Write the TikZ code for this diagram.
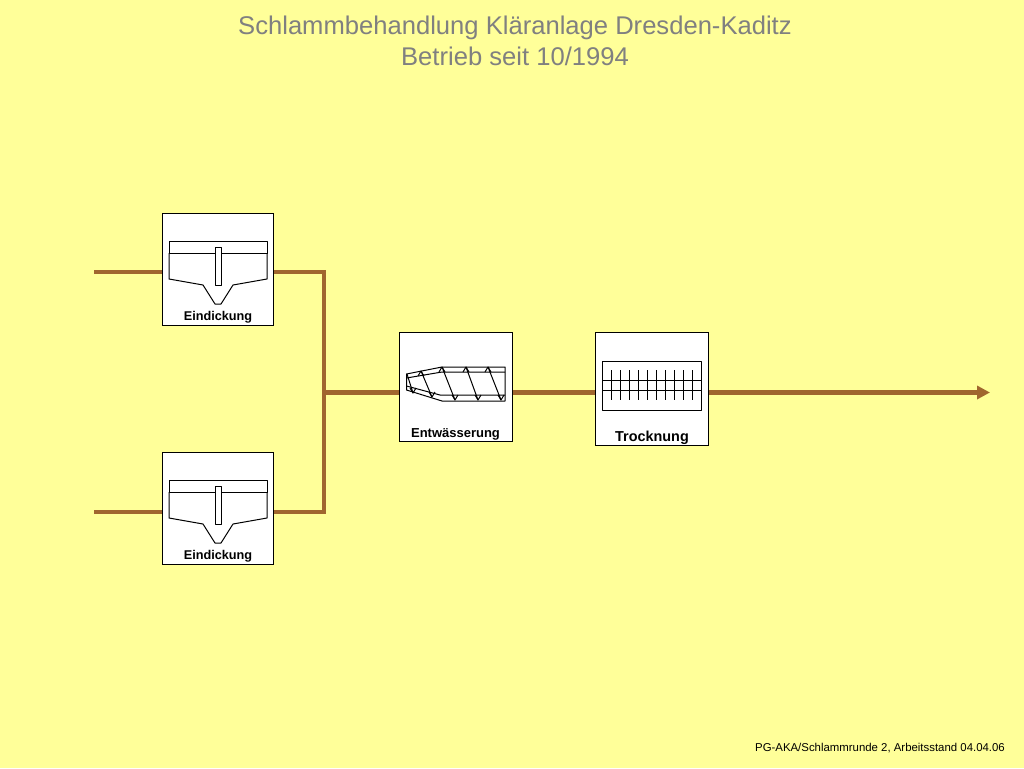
\documentclass[tikz,border=0pt]{standalone}
\usepackage{fontspec}
\setmainfont{Liberation Sans}
\usetikzlibrary{arrows.meta}
\definecolor{bgyellow}{HTML}{FFFF99}
\definecolor{pipebrown}{HTML}{A0662E}
\definecolor{titlegrey}{HTML}{808080}
\tikzset{
  unitbox/.style={draw=black,fill=white,line width=1pt,inner sep=0pt,minimum width=111pt,minimum height=112pt},
  pipe/.style={draw=pipebrown,line width=4.4pt},
  sym/.style={draw=black,line width=1pt,line join=round},
  unitlabel/.style={font=\bfseries\fontsize{12.7}{14}\selectfont,text=black,inner sep=0pt,anchor=base},
  titletext/.style={font=\fontsize{25.6}{31}\selectfont,text=titlegrey,align=center,inner sep=0pt},
}
\newcommand{\tanksym}[1]{%
  \begin{scope}[shift={(0,#1)}]
    \draw[sym] (169,241) rectangle (267,253);
    \draw[sym] (169,253) -- (169,279) -- (203,285) -- (215,304) -- (221,304) -- (233,285) -- (267,279) -- (267,253);
    \draw[sym,fill=white] (215,247) rectangle (221,285);
  \end{scope}}
\begin{document}
\begin{tikzpicture}[x=1pt,y=-1pt]
\useasboundingbox (0,0) rectangle (1024,768);
\fill[bgyellow] (0,0) rectangle (1024,768);
\node[titletext] (title) at (515,41) {Schlammbehandlung Kläranlage Dresden-Kaditz\\Betrieb seit 10/1994};
\node[font=\fontsize{11.4}{13}\selectfont,text=black,anchor=base east,inner sep=0pt] (foot) at (1005,751) {PG-AKA/Schlammrunde 2, Arbeitsstand 04.04.06};
% boxes
\node[unitbox] (e1) at (217.5,269) {};
\node[unitbox] (e2) at (217.5,508) {};
\node[unitbox,minimum width=113pt,minimum height=109pt] (en) at (455.5,386.5) {};
\node[unitbox,minimum width=113pt,minimum height=113pt] (tr) at (651.5,388.5) {};
% free ends and junctions
\coordinate (in1) at (94,272);
\coordinate (in2) at (94,512);
\coordinate (j1) at (324,272);
\coordinate (j2) at (324,512);
\coordinate (jm) at (324,392.5);
\coordinate (out) at (990,392.5);
% connectors
\draw[pipe] (in1) -- (e1.west |- in1);
\draw[pipe] (in2) -- (e2.west |- in2);
\draw[pipe,line join=miter] (e1.east |- j1) -- (j1) -- (j2) -- (e2.east |- j2);
\draw[pipe] (jm) -- (en.west |- jm);
\draw[pipe] (en.east |- jm) -- (tr.west |- jm);
\draw[pipe,-{Triangle[length=13pt,width=13pt]}] (tr.east |- out) -- (out);
% symbols
\tanksym{0}
\tanksym{239}
% screw
\draw[sym] (406.5,374) -- (442,367) -- (505,367) -- (505,401) -- (442,401) -- (406.5,390) -- cycle;
\draw[sym] (406.5,378) -- (442,372) -- (505,372);
\draw[sym] (406.5,386) -- (440,395) -- (505,395);
\draw[sym] (407,374) -- (413,393);
\draw[sym] (421,371) -- (432,397);
\draw[sym] (442,367) -- (455,400);
\draw[sym] (466,367) -- (478,400);
\draw[sym] (488,367) -- (501,400);
\foreach \a/\b in {413/393,432/397,455/400,478/400,501/400} \draw[sym] (\a-3,\b-5) -- (\a,\b) -- (\a+3,\b-5);
\foreach \a/\b in {421/371,442/367,466/367,488/367} \draw[sym] (\a-3,\b+5) -- (\a,\b) -- (\a+3,\b+5);
% dryer
\draw[sym] (602,361) rectangle (701,410);
\draw[sym] (602,380) -- (701,380);
\draw[sym] (602,390) -- (701,390);
\foreach \i in {0,...,9} \draw[sym] (611+9*\i,370) -- (611+9*\i,400);
% labels
\node[unitlabel] (l1) at (218,320) {Eindickung};
\node[unitlabel] (l2) at (218,559) {Eindickung};
\node[unitlabel,font=\bfseries\fontsize{13}{15}\selectfont] (l3) at (455.5,437) {Entwässerung};
\node[unitlabel,font=\bfseries\fontsize{14.4}{15}\selectfont] (l4) at (652,441.5) {Trocknung};
\end{tikzpicture}
\end{document}
